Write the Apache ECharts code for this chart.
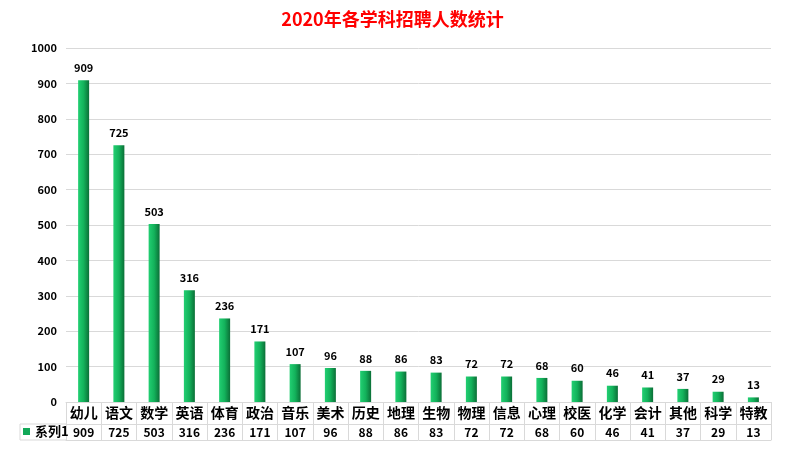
<!DOCTYPE html>
<html><head><meta charset="utf-8">
<script src="https://cdn.jsdelivr.net/npm/echarts@6/dist/echarts.min.js"></script>
<style>html,body{margin:0;padding:0;background:#fff}#c{width:785px;height:450px}</style>
</head><body><div id="c"></div>
<script>
const titleText = '2020年各学科招聘人数统计';
const seriesName = '系列1';
const categories = ['幼儿','语文','数学','英语','体育','政治','音乐','美术','历史','地理','生物','物理','信息','心理','校医','化学','会计','其他','科学','特教'];
const values = [909,725,503,316,236,171,107,96,88,86,83,72,72,68,60,46,41,37,29,13];
const yTicks = {min:0, max:1000, interval:100};

const FONT = '"Noto Sans CJK SC", "Noto Sans", sans-serif';
const GRID = '#d9d9d9';
const chart = echarts.init(document.getElementById('c'));
const barColor = new echarts.graphic.LinearGradient(0,0,1,0,[
  {offset:0,color:'#22cf72'},{offset:0.5,color:'#13b25b'},{offset:1,color:'#0b6f37'}]);
chart.setOption({
  animation:false,
  backgroundColor:'#fff',
  textStyle:{fontFamily:FONT},
  title:{text:titleText,left:'center',top:5,textStyle:{color:'#ff0000',fontSize:18,fontWeight:'bold',fontFamily:FONT}},
  legend:{data:[{name:seriesName,icon:'rect',itemStyle:{color:'#12a858'}}],left:23,top:425,itemWidth:7,itemHeight:7,itemGap:4,padding:0,
    textStyle:{fontSize:13,fontWeight:'bold',color:'#000',fontFamily:FONT}},
  grid:{left:66,right:14,top:48,bottom:48,containLabel:false},
  xAxis:[
    {type:'category',data:categories,position:'bottom',offset:0,
     axisLine:{show:true,lineStyle:{color:GRID,width:1}},
     splitLine:{show:false},
     axisTick:{show:true,length:38,lineStyle:{color:GRID,width:1},alignWithLabel:false},
     axisLabel:{interval:0,color:'#000',fontSize:14,fontWeight:'bold',margin:4,fontFamily:FONT}},
    {type:'category',data:values.map(String),position:'bottom',offset:22,
     axisLine:{show:true,lineStyle:{color:GRID,width:1}},axisTick:{show:false},splitLine:{show:false},
     axisLabel:{interval:0,color:'#000',fontSize:12,fontWeight:'bold',margin:2,fontFamily:FONT}},
    {type:'category',data:categories,position:'bottom',offset:38,
     axisLine:{show:true,lineStyle:{color:GRID,width:1}},axisTick:{show:false},splitLine:{show:false},axisLabel:{show:false}}
  ],
  yAxis:{type:'value',min:yTicks.min,max:yTicks.max,interval:yTicks.interval,
    axisLine:{show:false},axisTick:{show:false},
    splitLine:{lineStyle:{color:GRID,width:1}},
    axisLabel:{color:'#000',fontSize:11,fontWeight:'bold',margin:9,fontFamily:FONT,formatter:v=>String(v)}},
  graphic:[
    {type:'line',shape:{x1:20,y1:424,x2:66,y2:424},style:{stroke:GRID,lineWidth:1}},
    {type:'line',shape:{x1:20,y1:440,x2:66,y2:440},style:{stroke:GRID,lineWidth:1}},
    {type:'line',shape:{x1:20,y1:424,x2:20,y2:440},style:{stroke:GRID,lineWidth:1}}
  ],
  series:[{name:seriesName,type:'bar',xAxisIndex:0,data:values,barWidth:11,
    itemStyle:{color:barColor},
    label:{show:true,position:'top',distance:7,color:'#000',fontSize:11,fontWeight:'bold',fontFamily:FONT}}]
});
</script></body></html>
